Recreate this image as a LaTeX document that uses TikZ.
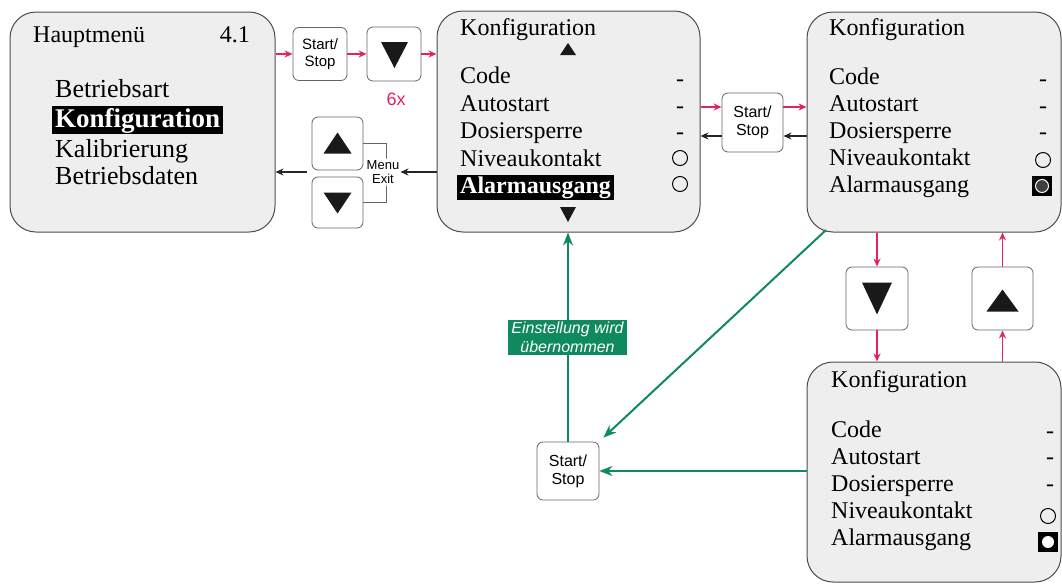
\documentclass[tikz,border=0pt]{standalone}
\usepackage{fontspec}
\setmainfont{Liberation Serif}
\setsansfont{Liberation Sans}
\usetikzlibrary{arrows.meta,calc}
\definecolor{pk}{HTML}{E0245E}
\definecolor{gn}{HTML}{0E8A5C}
\definecolor{boxfill}{HTML}{EEEEEE}
\begin{document}
\begin{tikzpicture}[x=1pt,y=-1pt,
 screen/.style={draw=black!70, line width=1pt, fill=boxfill, rounded corners=26pt, inner sep=0},
 key/.style={draw=black!60, line width=0.8pt, fill=white, rounded corners=6pt, inner sep=0, align=center, font=\sffamily\fontsize{15}{17}\selectfont},
 pinkarr/.style={draw=pk, line width=1.4pt, -{Stealth[length=8pt,width=7pt]}},
 blackarr/.style={draw=black!85, line width=1.2pt, -{Stealth[length=8pt,width=7pt]}},
 greenarr/.style={draw=gn, line width=2pt, -{Stealth[length=13pt,width=10pt]}},
 txt/.style={anchor=base west, inner sep=0, font=\fontsize{24}{24}\selectfont},
 txtA/.style={anchor=base west, inner sep=0, font=\fontsize{26}{26}\selectfont},
 inv/.style={anchor=base west, fill=black, text=white, inner xsep=3pt, inner ysep=1.5pt, font=\bfseries\fontsize{24}{24}\selectfont},
 val/.style={anchor=base, inner sep=0, font=\fontsize{24}{24}\selectfont},
 tri/.style={fill=black!90},
 ring/.style={draw=black, line width=1pt},
]
\useasboundingbox (0,0) rectangle (1062,584);

% screens
\node[screen, minimum width=265pt, minimum height=220pt] (m1) at (142.5,122) {};
\node[screen, minimum width=263pt, minimum height=221pt] (m2) at (568.5,121.5) {};
\node[screen, minimum width=254pt, minimum height=220pt] (m3) at (934,122) {};
\node[screen, minimum width=254pt, minimum height=220pt] (m4) at (934,472) {};

% screen 1
\node[txt] (t1) at (33,42) {Hauptmenü};
\node[anchor=base east, inner sep=0, font=\fontsize{24}{24}\selectfont] (v41) at (250,42) {4.1};
\node[txtA] (b1) at (55,97) {Betriebsart};
\node[inv, font=\bfseries\fontsize{27}{27}\selectfont] (b2) at (52,127) {Konfiguration};
\node[txtA] (b3) at (55,157) {Kalibrierung};
\node[txtA] (b4) at (55,184) {Betriebsdaten};

% screen 2
\node[txt] (k2) at (460,35) {Konfiguration};
\node[txt] (c2) at (460,83) {Code};
\node[txt] (a2) at (460,111) {Autostart};
\node[txt] (d2t) at (460,138) {Dosiersperre};
\node[txt] (n2) at (460,166) {Niveaukontakt};
\node[inv] (al2) at (457,193) {Alarmausgang};
\node[val] (v2a) at (680,86) {-};
\node[val] (v2b) at (680,113) {-};
\node[val] (v2c) at (680,139) {-};
\draw[ring] (680,158) circle (7.5);
\draw[ring] (680,184) circle (7.5);
\fill[tri] (560,55) -- (576,55) -- (568,43) -- cycle;
\fill[tri] (560,207) -- (576,207) -- (568,222) -- cycle;

% screen 3
\node[txt] (k3) at (829,35) {Konfiguration};
\node[txt] (c3) at (829,84) {Code};
\node[txt] (a3) at (829,111) {Autostart};
\node[txt] (d3t) at (829,138) {Dosiersperre};
\node[txt] (n3) at (829,165) {Niveaukontakt};
\node[txt] (al3) at (829,192) {Alarmausgang};
\node[val] (v3a) at (1043,86) {-};
\node[val] (v3b) at (1043,113) {-};
\node[val] (v3c) at (1043,139) {-};
\draw[ring] (1043,160) circle (7.5);
\fill[black] (1032,176) rectangle (1052,196);
\draw[white, fill=black!75, line width=1pt] (1042,186) circle (6.5);

% screen 4
\node[txt] (k4) at (831,387) {Konfiguration};
\node[txt] (c4) at (831,437) {Code};
\node[txt] (a4) at (831,464) {Autostart};
\node[txt] (d4t) at (831,491) {Dosiersperre};
\node[txt] (n4) at (831,518) {Niveaukontakt};
\node[txt] (al4) at (831,545) {Alarmausgang};
\node[val] (v4a) at (1050,438) {-};
\node[val] (v4b) at (1050,464) {-};
\node[val] (v4c) at (1050,491) {-};
\draw[ring] (1048,516) circle (7.5);
\fill[black] (1038,532) rectangle (1058,552);
\fill[white] (1048,542) circle (6);

% keys
\node[key, minimum width=54pt, minimum height=53pt] (s1) at (320,54) {Start/\\Stop};
\node[key, minimum width=54pt, minimum height=54pt] (d1) at (394,54) {};
\node[key, minimum width=51pt, minimum height=53pt] (u2) at (337.5,143.5) {};
\node[key, minimum width=51pt, minimum height=51pt] (d2) at (337.5,202.5) {};
\node[key, minimum width=61pt, minimum height=59pt, font=\sffamily\fontsize{16}{18}\selectfont] (s2) at (752.5,122.5) {Start/\\Stop};
\node[key, minimum width=62pt, minimum height=63pt] (d3) at (877,298.5) {};
\node[key, minimum width=61pt, minimum height=63pt] (u3) at (1002.5,298.5) {};
\node[key, minimum width=62pt, minimum height=58pt, font=\sffamily\fontsize{16}{18}\selectfont] (s3) at (568,471) {Start/\\Stop};

\fill[tri, shift={(d1)}] (-13,-12) -- (14,-12) -- (0.5,14) -- cycle;
\fill[tri, shift={(u2)}] (-14,10) -- (14,10) -- (0,-11) -- cycle;
\fill[tri, shift={(d2)}] (-14,-10) -- (14,-10) -- (0,11) -- cycle;
\fill[tri, shift={(d3)}] (-15,-16) -- (15,-16) -- (0,16) -- cycle;
\fill[tri, shift={(u3)}] (-16,13) -- (16,13) -- (0,-9) -- cycle;

\node[font=\sffamily\fontsize{18}{18}\selectfont, text=pk, inner sep=0] (six) at (396,99) {6x};

% Menu/Exit bracket
\coordinate (bk) at (386,172);
\draw[black!60, line width=0.8pt] (u2.east) -| (bk) |- (d2.east);
\node[font=\sffamily\fontsize{13}{14}\selectfont, fill=white, inner sep=1pt, align=center] (me) at (383,172) {Menu\\Exit};

% pink arrows top
\draw[pinkarr] (m1.east |- s1) -- (s1.west);
\draw[pinkarr] (s1.east) -- (d1.west |- s1);
\draw[pinkarr] (d1.east |- s1) -- (m2.west |- s1);

% black arrows
\draw[blackarr] (m2.west |- me) -- (me.east);
\draw[blackarr] ($(u2.west |- me)+(-5,0)$) -- (m1.east |- me);

% start/stop 2
\draw[pinkarr] (m2.east |- 0,107) -- (s2.west |- 0,107);
\draw[pinkarr] (s2.east |- 0,107) -- (m3.west |- 0,107);
\draw[blackarr] (m3.west |- 0,136) -- (s2.east |- 0,136);
\draw[blackarr] (s2.west |- 0,136) -- (m2.east |- 0,136);

% up/down between screens 3 and 4
\draw[pinkarr] (d3.north |- m3.south) -- (d3.north);
\draw[pinkarr] (d3.south) -- (d3.south |- m4.north);
\draw[pinkarr] (u3.south |- m4.north) -- (u3.south);
\draw[pinkarr] (u3.north) -- (u3.north |- m3.south);

% green
\draw[greenarr] (m4.west |- s3.east) -- (s3.east);
\draw[greenarr] (s3.north) -- (s3.north |- m2.south);
\coordinate (g1) at (826,230);
\draw[greenarr] (g1) -- ($(s3.north east)+(4,-4)$);
\node[fill=gn, text=white, font=\sffamily\itshape\fontsize{16}{19}\selectfont, align=center, inner xsep=3pt, inner ysep=2pt] (lbl) at (567.5,337.5) {Einstellung wird\\übernommen};
\end{tikzpicture}
\end{document}
